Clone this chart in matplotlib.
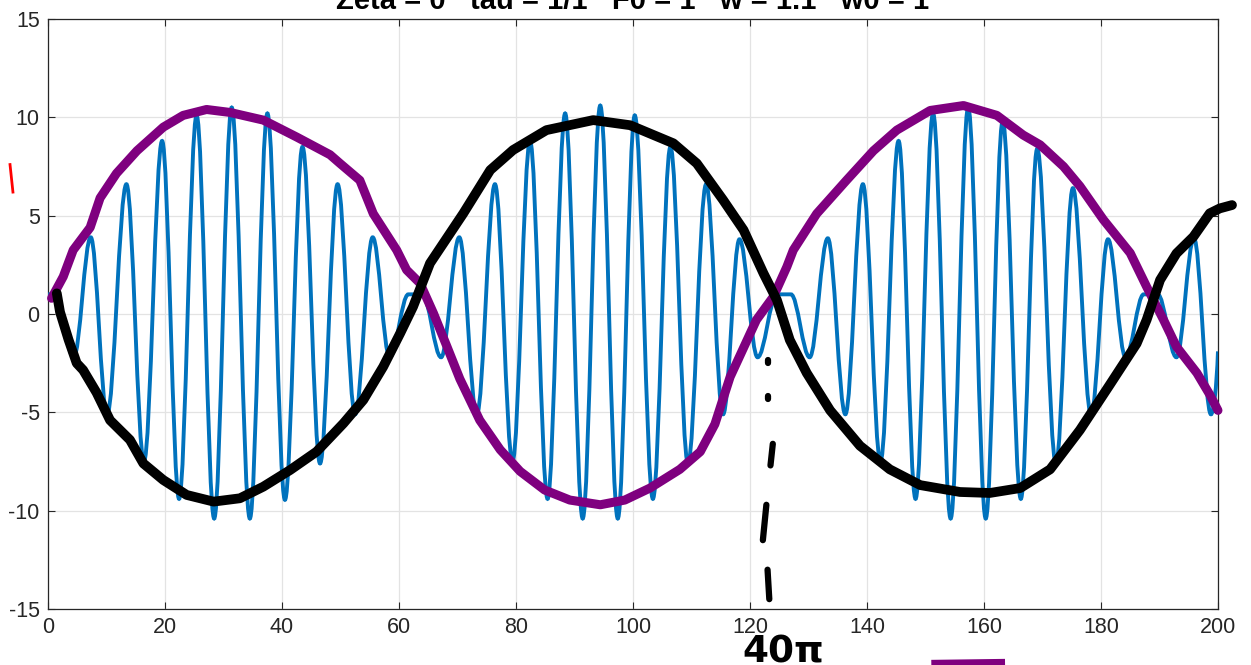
import numpy as np
from matplotlib import pyplot as plt
from matplotlib.path import Path
from matplotlib.patches import PathPatch

# blue response: turning points (time, value)
blue_t = [0.0, 1.2, 4.4, 7.3, 10.1, 13.4, 16.4, 19.5, 22.4, 25.4, 28.4, 31.4, 34.5, 37.5,
          40.5, 43.5, 46.5, 49.5, 52.5, 55.5, 58.4, 61.6, 64.0,
          67.2, 70.3, 73.3, 76.4, 79.4, 82.4, 85.4, 88.4, 91.4, 94.4, 97.4, 100.3, 103.4,
          106.4, 109.4, 112.5, 115.4, 118.2, 121.3, 124.6, 127.0,
          130.2, 133.3, 136.3, 139.3, 142.3, 145.4, 148.3, 151.3, 154.3, 157.3, 160.3, 163.2,
          166.3, 169.1, 172.3, 175.2, 178.3, 181.2, 184.2, 187.3, 189.7, 192.9, 195.9, 198.8, 200.0]
blue_x = [1.0, 1.0, -2.2, 3.9, -5.1, 6.6, -7.5, 8.8, -9.4, 10.1, -10.4, 10.5, -10.4, 10.2,
          -9.45, 8.5, -7.6, 6.6, -5.1, 3.9, -2.2, 1.0, 1.0,
          -2.2, 3.9, -5.1, 6.6, -7.5, 8.8, -9.4, 10.2, -10.4, 10.6, -10.4, 10.1, -9.4,
          8.5, -7.6, 6.6, -5.1, 3.8, -2.2, 1.0, 1.0,
          -2.2, 3.85, -5.1, 6.6, -7.5, 8.8, -9.4, 10.2, -10.4, 10.5, -10.4, 9.8,
          -9.4, 8.4, -7.6, 6.4, -5.1, 3.8, -2.2, 1.0, 1.0, -2.2, 3.85, -5.1, -1.9]

# hand drawn envelope (purple)
env_t = [0.6, 2.6, 4.3, 7.2, 8.9, 11.7, 15.2, 19.7, 23.1, 27.1, 31.1, 36.8, 42.5, 48.2, 49.9,
         53.3, 55.6, 59.6, 61.3, 63.6, 65.9, 68.2, 70.4, 73.8, 77.3, 80.7, 84.9, 89.2, 94.4,
         98.6, 102.9, 108.0, 111.5, 114.0, 116.6, 121.1, 124.0, 126.3, 127.4, 131.4, 136.5,
         141.1, 145.1, 150.8, 156.5, 162.2, 166.7, 169.6, 173.6, 176.4, 180.4, 185.0, 187.8,
         190.7, 192.9, 196.4, 198.6, 200.0]
env_x = [0.8, 1.9, 3.25, 4.4, 5.9, 7.15, 8.3, 9.5, 10.1, 10.4, 10.25, 9.86, 9.0, 8.1, 7.66,
         6.8, 5.1, 3.25, 2.24, 1.56, 0.03, -1.66, -3.3, -5.4, -6.9, -8.0, -8.95, -9.46, -9.7,
         -9.46, -8.85, -7.9, -7.0, -5.6, -3.2, -0.3, 0.88, 2.4, 3.25, 5.1, 6.8,
         8.3, 9.35, 10.35, 10.6, 10.1, 9.1, 8.6, 7.5, 6.5, 4.8, 3.1, 1.39,
         -0.3, -1.66, -3.0, -4.1, -4.9]

# hand drawn curve (black)
ink_t = [1.5, 2.05, 3.5, 4.9, 6.0, 8.3, 10.6, 14.0, 16.3, 19.7, 23.7, 28.3, 32.8, 36.8, 41.4,
         45.9, 50.5, 53.9, 57.3, 60.2, 62.4, 65.3, 71.0, 75.6, 79.5, 85.2, 93.2, 99.5,
         106.9, 110.9, 115.4, 118.9, 122.3, 124.6, 126.8, 129.7, 133.7, 138.8, 143.9, 149.1,
         155.9, 161.0, 166.2, 171.3, 176.4, 181.5, 186.1, 187.8, 190.1, 192.9, 195.8, 198.6,
         200.3, 202.4]
ink_x = [1.05, 0.1, -1.3, -2.5, -2.85, -4.0, -5.4, -6.4, -7.6, -8.44, -9.2, -9.54, -9.37, -8.78,
         -7.93, -7.0, -5.56, -4.37, -2.68, -0.98, 0.37, 2.58, 5.12, 7.32, 8.34, 9.35, 9.86, 9.6,
         8.68, 7.66, 5.8, 4.27, 2.07, 0.71, -1.32, -3.0, -4.9, -6.7, -7.9, -8.7,
         -9.05, -9.1, -8.85, -7.9, -5.9, -3.6, -1.5, -0.3, 1.73, 3.08, 3.93, 5.12,
         5.37, 5.54]

# hand drawn dashes at t = 40*pi
dash_t = [(123.0, 123.0), (123.0, 123.0), (123.9, 123.5), (122.8, 122.2), (123.0, 123.3)]
dash_x = [(-2.35, -2.5), (-4.15, -4.3), (-6.6, -7.7), (-9.7, -11.5), (-13.0, -14.5)]

plt.rcParams['font.family'] = ['Liberation Sans', 'DejaVu Sans']
plt.rcParams['axes.unicode_minus'] = False
fig, ax = plt.subplots(figsize=(12.51, 6.65), dpi=100)
fig.subplots_adjust(left=0.0384, right=0.9736, bottom=0.0842, top=0.9714)

# blue curve: smooth half waves between turning points
k = 0.3642
verts = [(blue_t[0], blue_x[0])]
codes = [Path.MOVETO]
for i in range(1, len(blue_t)):
  t0, x0, t1, x1 = blue_t[i-1], blue_x[i-1], blue_t[i], blue_x[i]
  dt = t1 - t0
  c2 = (t1 - k*dt, x1) if i < len(blue_t)-1 else (t1 - 0.2*dt, x1 - 0.6*(x1 - x0))
  verts += [(t0 + k*dt, x0), c2, (t1, x1)]
  codes += [Path.CURVE4]*3
ax.add_patch(PathPatch(Path(verts, codes), fill=False, ec='#0072BD', lw=2.8, zorder=3))

ax.plot(env_t, env_x, c='#7f007f', lw=6.5, solid_capstyle='round', solid_joinstyle='round',
        clip_on=False, zorder=4)
ax.plot(ink_t, ink_x, c='k', lw=7, solid_capstyle='round', solid_joinstyle='round',
        clip_on=False, zorder=5)
for tt, xx in zip(dash_t, dash_x):
  ax.plot(tt, xx, c='k', lw=4.5, solid_capstyle='round', clip_on=False, zorder=5)

ax.text(125.7, -17.2, '40π', ha='center', va='center', fontsize=27, fontweight='bold',
        family=['DejaVu Sans'], clip_on=False)
ax.plot([-6.5, -6.0], [7.6, 6.2], c='red', lw=2, clip_on=False)
ax.plot([151.0, 163.6], [-17.85, -17.8], c='#7f007f', lw=7.5, solid_capstyle='butt', clip_on=False)

ax.set_xlim(0, 200)
ax.set_ylim(-15, 15)
ax.set_xticks(np.arange(0, 201, 20))
ax.set_yticks(np.arange(-15, 16, 5))
ax.grid(True, color='#e3e3e3', lw=0.9)
ax.set_axisbelow(True)
ax.tick_params(direction='in', length=5, top=True, right=True, labelsize=15.5,
               colors='#262626', pad=6)
for s in ax.spines.values():
  s.set_color('#262626')
  s.set_linewidth(0.9)

fig.text(0.506, 0.986, 'Zeta = 0   tau = 1/1   F0 = 1   w = 1.1   w0 = 1', ha='center',
         va='baseline', fontsize=21, fontweight='bold', family=['Liberation Sans'])

plt.savefig('out.png', dpi=100)
